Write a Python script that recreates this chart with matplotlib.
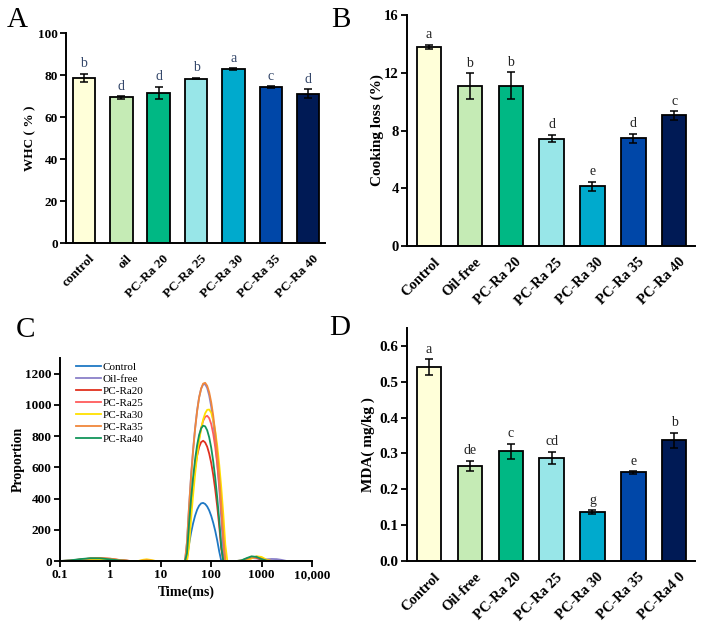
import matplotlib
matplotlib.use("Agg")
import matplotlib.pyplot as plt
import matplotlib.transforms as mtransforms
from matplotlib.ticker import FixedLocator, NullLocator

plt.rcParams['font.family'] = ['Liberation Serif', 'DejaVu Serif']
plt.rcParams['mathtext.fontset'] = 'stix'

# ---------------- data ----------------
bar_colors = ['#FFFFD9', '#C5EBB5', '#00B884', '#98E6E8', '#00AACD', '#0047A8', '#001A55']

# Panel A
a_labels = ['control', 'oil', 'PC-Ra 20', 'PC-Ra 25', 'PC-Ra 30', 'PC-Ra 35', 'PC-Ra 40']
a_values = [78.5, 69.4, 71.5, 78.3, 82.8, 74.2, 71.1]
a_errors = [2.0, 0.6, 3.0, 0.3, 0.5, 0.4, 2.2]
a_letters = ['b', 'd', 'd', 'b', 'a', 'c', 'd']

# Panel B
b_labels = ['Control', 'Oil-free', 'PC-Ra 20', 'PC-Ra 25', 'PC-Ra 30', 'PC-Ra 35', 'PC-Ra 40']
b_values = [13.8, 11.07, 11.1, 7.44, 4.14, 7.47, 9.04]
b_errors = [0.15, 0.9, 0.95, 0.27, 0.3, 0.32, 0.3]
b_letters = ['a', 'b', 'b', 'd', 'e', 'd', 'c']

# Panel D
d_labels = ['Control', 'Oil-free', 'PC-Ra 20', 'PC-Ra 25', 'PC-Ra 30', 'PC-Ra 35', 'PC-Ra4 0']
d_values = [0.541, 0.266, 0.306, 0.288, 0.136, 0.247, 0.337]
d_errors = [0.022, 0.014, 0.021, 0.017, 0.005, 0.004, 0.021]
d_letters = ['a', 'de', 'c', 'cd', 'g', 'e', 'b']

# Panel C (LF-NMR T2 distribution)
c_time = [0.1, 0.158, 0.251, 0.398, 0.631, 1.0, 1.585, 2.512,
          3.55, 4.47, 5.25, 6.31, 7.94, 15.8,
          27.5, 30.2, 33.1, 36.3, 39.8, 43.7, 47.9, 52.5, 57.5, 63.1, 69.2, 75.9,
          83.2, 91.2, 100, 109.6, 120.2, 131.8, 144.5, 158.5, 173.8, 190.5, 208.9,
          316, 398, 501, 631, 794, 1000, 1259, 1585, 1995, 2512, 3162, 10000]
c_names = ['Control', 'Oil-free', 'PC-Ra20', 'PC-Ra25', 'PC-Ra30', 'PC-Ra35', 'PC-Ra40']
c_control = [0, 0, 3, 8, 10, 6, 2, 0,
             0, 0, 0, 0, 0, 0,
             0, 0, 23, 107, 180, 241, 290, 328, 354, 369, 372, 365, 349, 324, 289, 245, 193, 131, 60, 0, 0, 0, 0,
             0, 0, 8, 22, 28, 18, 4, 0, 0, 0, 0, 0]
c_oilfree = [0, 2, 8, 14, 15, 10, 3, 0,
             0, 0, 0, 0, 0, 0,
             0, 0, 123, 347, 544, 712, 851, 964, 1048, 1103, 1131, 1132, 1108, 1060, 989, 893, 774, 630, 463, 272, 58, 0, 0,
             0, 0, 0, 0, 3, 8, 11, 13, 12, 7, 0, 0]
c_pc20 = [0, 3, 10, 16, 18, 14, 5, 0,
          0, 0, 0, 0, 0, 0,
          0, 0, 47, 219, 367, 493, 594, 674, 729, 761, 770, 759, 732, 688, 628, 552, 458, 348, 222, 78, 0, 0, 0,
          0, 3, 15, 24, 20, 8, 0, 0, 0, 0, 0, 0]
c_pc25 = [0, 1, 6, 12, 14, 12, 5, 0,
          0, 0, 0, 0, 0, 0,
          0, 0, 0, 179, 339, 479, 601, 703, 787, 851, 897, 923, 930, 915, 877, 815, 729, 620, 487, 330, 151, 0, 0,
          0, 0, 6, 18, 26, 20, 6, 0, 0, 0, 0, 0]
c_pc30 = [0, 0, 4, 9, 12, 9, 3, 0,
          0, 8, 11, 7, 0, 0,
          0, 0, 0, 93, 266, 420, 555, 671, 768, 846, 906, 946, 968, 970, 950, 903, 833, 737, 616, 470, 301, 106, 0,
          0, 0, 5, 16, 30, 26, 8, 0, 0, 0, 0, 0]
c_pc35 = [0, 2, 9, 16, 19, 15, 6, 0,
          0, 3, 5, 3, 0, 0,
          0, 0, 121, 343, 537, 705, 845, 958, 1045, 1104, 1136, 1141, 1122, 1081, 1017, 932, 822, 692, 538, 363, 163, 0, 0,
          0, 2, 12, 22, 24, 14, 3, 0, 0, 0, 0, 0]
c_pc40 = [0, 4, 12, 18, 17, 10, 3, 0,
          0, 0, 0, 0, 0, 0,
          0, 0, 50, 236, 398, 536, 651, 741, 807, 849, 867, 862, 837, 792, 726, 639, 532, 405, 259, 91, 0, 0, 0,
          0, 4, 18, 30, 26, 12, 2, 0, 0, 0, 0, 0]
c_series = [c_control, c_oilfree, c_pc20, c_pc25, c_pc30, c_pc35, c_pc40]
c_colors = ['#1F78C4', '#8A80C8', '#E0301E', '#FF5C5C', '#FFE100', '#F0873A', '#12955A']
c_xticks = [0.1, 1, 10, 100, 1000, 10000]
c_xticklabels = ['0.1', '1', '10', '100', '1000', '10,000']

# ---------------- figure ----------------
W, H = 704, 632
fig = plt.figure(figsize=(W / 100, H / 100), dpi=100)


def ax_px(left, top, right, bottom):
    return fig.add_axes([left / W, 1 - bottom / H, (right - left) / W, (bottom - top) / H])


def style_axes(ax, lw=1.4):
    for s in ['top', 'right']:
        ax.spines[s].set_visible(False)
    for s in ['left', 'bottom']:
        ax.spines[s].set_linewidth(lw)


def bar_panel(ax, labels, values, errors, letters, ylim, yticks, ylabel,
              tick_fs, label_fs, xlab_fs, letter_color, xlim, yfmt, ylabel_x):
    x = list(range(len(labels)))
    ax.bar(x, values, width=0.6, color=bar_colors, edgecolor='black', linewidth=1.3, zorder=2)
    ax.errorbar(x, values, yerr=errors, fmt='none', ecolor='black', elinewidth=1.1,
                capsize=3, capthick=1.1, zorder=3)
    for xi, v, e, t in zip(x, values, errors, letters):
        ax.annotate(t, (xi, v + e), xytext=(0, 2.5), textcoords='offset points',
                    ha='center', va='bottom', fontsize=10, color=letter_color)
    ax.set_xlim(*xlim)
    ax.set_ylim(*ylim)
    ax.set_yticks(yticks)
    ax.set_yticklabels([yfmt.format(v) for v in yticks], fontsize=tick_fs, fontweight='bold')
    ax.set_xticks(x)
    ax.set_xticklabels(labels, fontsize=xlab_fs, fontweight='bold', rotation=45,
                       ha='right', va='top', rotation_mode='anchor')
    ax.tick_params(axis='x', length=0, pad=7)
    ax.tick_params(axis='y', direction='out', length=4, width=1.3, pad=2)
    offset = mtransforms.ScaledTranslation(3 / 72, 0, fig.dpi_scale_trans)
    for lab in ax.get_xticklabels():
        lab.set_transform(lab.get_transform() + offset)
    ax.set_ylabel(ylabel, fontsize=label_fs, fontweight='bold')
    ax.yaxis.set_label_coords(ylabel_x, 0.5)
    style_axes(ax)


# Panel A
axA = ax_px(66, 33, 325, 243)
bar_panel(axA, a_labels, a_values, a_errors, a_letters, (0, 100), [0, 20, 40, 60, 80, 100],
          'WHC ( % )', 9.5, 9.5, 9.5, '#34476A', (-0.48, 6.45), '{:.0f}', -0.115)

# Panel B
axB = ax_px(407, 15, 695, 246)
bar_panel(axB, b_labels, b_values, b_errors, b_letters, (0, 16), [0, 4, 8, 12, 16],
          'Cooking loss (%)', 10.5, 11, 10.5, '#222222', (-0.54, 6.51), '{:.0f}', -0.08)

# Panel D
axD = ax_px(407, 328, 695, 561)
bar_panel(axD, d_labels, d_values, d_errors, d_letters, (0, 0.65),
          [0.0, 0.1, 0.2, 0.3, 0.4, 0.5, 0.6],
          'MDA( mg/kg )', 11, 11, 10.5, '#222222', (-0.54, 6.51), '{:.1f}', -0.11)

# Panel C
axC = ax_px(60, 358, 312, 561)
for name, vals, col in zip(c_names, c_series, c_colors):
    axC.plot(c_time, vals, color=col, lw=1.3, label=name, zorder=2)
axC.set_xscale('log')
axC.set_xlim(0.1, 10000)
axC.set_ylim(0, 1300)
axC.xaxis.set_major_locator(FixedLocator(c_xticks))
axC.xaxis.set_minor_locator(NullLocator())
axC.set_xticklabels(c_xticklabels, fontsize=9.5, fontweight='bold')
axC.set_yticks([0, 200, 400, 600, 800, 1000, 1200])
axC.set_yticklabels(['0', '200', '400', '600', '800', '1000', '1200'], fontsize=9.5, fontweight='bold')
axC.tick_params(direction='out', length=4, width=1.3, pad=2)
axC.set_xlabel('Time(ms)', fontsize=10, fontweight='bold', labelpad=3)
axC.set_ylabel('Proportion', fontsize=10, fontweight='bold')
axC.yaxis.set_label_coords(-0.14, 0.5)
style_axes(axC)
leg = axC.legend(loc='upper left', bbox_to_anchor=(0.055, 0.99), frameon=False,
                 fontsize=8, handlelength=2.2, handletextpad=0.2, labelspacing=0.2,
                 borderaxespad=0, borderpad=0.2)

# Panel letters
for t, (px, py) in zip(['A', 'B', 'C', 'D'], [(17, 20), (341, 20), (25, 330), (340, 328)]):
    fig.text(px / W, 1 - py / H, t, fontsize=21, ha='center', va='center')

fig.savefig('out.png', dpi=100)
